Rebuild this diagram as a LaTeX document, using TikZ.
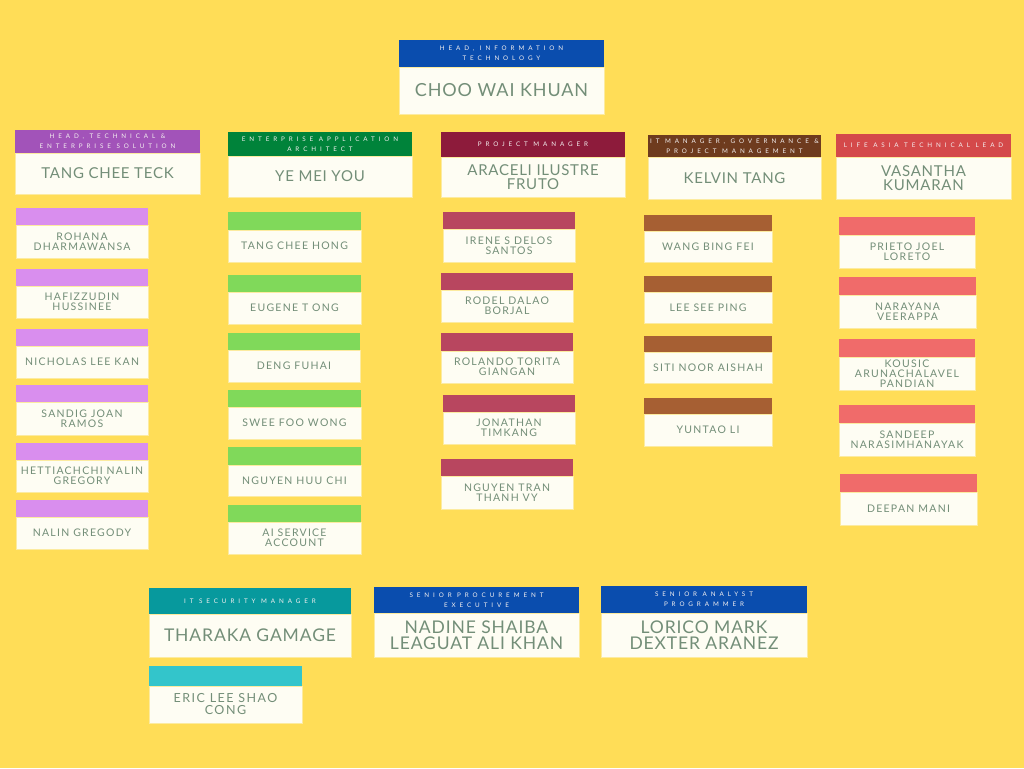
\documentclass[tikz,border=0pt]{standalone}
\usepackage{fontspec}
\setmainfont{Lato}
\newfontfamily\nameF[LetterSpace=5]{Lato}
\newfontfamily\itemF[LetterSpace=12]{Lato}
\newfontfamily\roleF[LetterSpace=62]{Lato}
\newcommand\fBig{\nameF\fontsize{18}{15}\selectfont}
\newcommand\fMid{\nameF\fontsize{15}{13.5}\selectfont}
\newcommand\fBot{\nameF\fontsize{17.5}{16}\selectfont}
\newcommand\fEric{\itemF\fontsize{12.5}{12}\selectfont}
\newcommand\fItem{\itemF\fontsize{10.5}{10.3}\selectfont}
\newcommand\fRole{\roleF\fontsize{6.3}{9.8}\selectfont}
\definecolor{bg}{HTML}{FFDD57}
\definecolor{cream}{HTML}{FEFDF3}
\definecolor{edge}{HTML}{FCEBA0}
\definecolor{nametxt}{HTML}{738E78}
\definecolor{roletxt}{HTML}{F4F0F0}
\definecolor{cblue}{HTML}{0A4DAE}
\definecolor{cpurple}{HTML}{A253B9}
\definecolor{cgreen}{HTML}{00833A}
\definecolor{cmaroon}{HTML}{8D1B3B}
\definecolor{cbrown}{HTML}{6E3B1E}
\definecolor{cred}{HTML}{D4494A}
\definecolor{cteal}{HTML}{07999D}
\definecolor{lpurple}{HTML}{D98EEE}
\definecolor{lgreen}{HTML}{80D95A}
\definecolor{lrose}{HTML}{B8465F}
\definecolor{lbrown}{HTML}{A65F33}
\definecolor{lcoral}{HTML}{F06B6A}
\definecolor{lcyan}{HTML}{33C5CB}
\newcommand\card[9]{%
  \node[hdr, fill=#7, minimum width={(#4-#2)*1pt}, minimum height={(#5-#3)*1pt}] (#1h) at (#2,#3) {#8};
  \node[bod, minimum width={(#4-#2)*1pt}, minimum height={(#6-#5)*1pt}] (#1) at (#2,#5) {#9};
}
\begin{document}
\begin{tikzpicture}[x=1pt,y=-1pt,
  bodyfont/.style={font=\fItem},
  hdr/.style={anchor=north west, inner sep=0pt, outer sep=0pt, text=roletxt, font=\fRole, align=center},
  bod/.style={anchor=north west, inner sep=0pt, outer sep=0pt, fill=cream, draw=edge, line width=0.7pt, text=nametxt, align=center, bodyfont}]
\fill[bg] (0,0) rectangle (1024,768);
\useasboundingbox (0,0) rectangle (1024,768);

% top and column heads
\begin{scope}[bodyfont/.style={font=\fBig}]
\card{choo}{399}{40}{604}{67}{114}{cblue}{HEAD, INFORMATION\\TECHNOLOGY}{CHOO WAI KHUAN}
\end{scope}
\begin{scope}[bodyfont/.style={font=\fMid}]
\card{tct}{15}{130}{200}{153}{194}{cpurple}{HEAD, TECHNICAL \&\\ENTERPRISE SOLUTION}{TANG CHEE TECK}
\card{yme}{228}{132}{412}{156}{197}{cgreen}{ENTERPRISE APPLICATION\\ARCHITECT}{YE MEI YOU}
\card{afr}{441}{132}{625}{157}{197}{cmaroon}{PROJECT MANAGER}{ARACELI ILUSTRE\\FRUTO}
\card{kt}{648}{135}{821}{157}{199}{cbrown}{IT MANAGER, GOVERNANCE \&\\PROJECT MANAGEMENT}{KELVIN TANG}
\card{vk}{836}{134}{1011}{157}{199}{cred}{LIFE ASIA TECHNICAL LEAD}{VASANTHA\\KUMARAN}
\end{scope}

% column 1
\card{c1a}{16}{208}{148}{225}{258}{lpurple}{}{ROHANA\\DHARMAWANSA}
\card{c1b}{16}{269}{148}{286}{318}{lpurple}{}{HAFIZZUDIN\\HUSSINEE}
\card{c1c}{16}{329}{148}{346}{378}{lpurple}{}{NICHOLAS LEE KAN}
\card{c1d}{16}{385}{148}{402}{435}{lpurple}{}{SANDIG JOAN\\RAMOS}
\card{c1e}{16}{443}{148}{460}{492}{lpurple}{}{HETTIACHCHI NALIN\\GREGORY}
\card{c1f}{16}{500}{148}{517}{549}{lpurple}{}{NALIN GREGODY}

% column 2
\card{c2a}{228}{212}{361}{230}{262}{lgreen}{}{TANG CHEE HONG}
\card{c2b}{228}{275}{361}{292}{324}{lgreen}{}{EUGENE T ONG}
\card{c2c}{228}{333}{360}{350}{382}{lgreen}{}{DENG FUHAI}
\card{c2d}{228}{390}{361}{407}{439}{lgreen}{}{SWEE FOO WONG}
\card{c2e}{228}{447}{361}{465}{496}{lgreen}{}{NGUYEN HUU CHI}
\card{c2f}{228}{505}{361}{522}{554}{lgreen}{}{AI SERVICE\\ACCOUNT}

% column 3
\card{c3a}{443}{212}{575}{229}{262}{lrose}{}{IRENE S DELOS\\SANTOS}
\card{c3b}{441}{273}{573}{290}{322}{lrose}{}{RODEL DALAO\\BORJAL}
\card{c3c}{441}{333}{573}{351}{383}{lrose}{}{ROLANDO TORITA\\GIANGAN}
\card{c3d}{443}{395}{575}{412}{444}{lrose}{}{JONATHAN\\TIMKANG}
\card{c3e}{441}{459}{573}{476}{509}{lrose}{}{NGUYEN TRAN\\THANH VY}

% column 4
\card{c4a}{644}{215}{772}{231}{262}{lbrown}{}{WANG BING FEI}
\card{c4b}{644}{276}{772}{292}{323}{lbrown}{}{LEE SEE PING}
\card{c4c}{644}{336}{772}{352}{383}{lbrown}{}{SITI NOOR AISHAH}
\card{c4d}{644}{398}{772}{414}{446}{lbrown}{}{YUNTAO LI}

% column 5
\card{c5a}{839}{217}{975}{235}{268}{lcoral}{}{PRIETO JOEL\\LORETO}
\card{c5b}{839}{277}{976}{295}{328}{lcoral}{}{NARAYANA\\VEERAPPA}
\card{c5c}{839}{339}{975}{357}{390}{lcoral}{}{KOUSIC\\ARUNACHALAVEL\\PANDIAN}
\card{c5d}{839}{405}{975}{423}{456}{lcoral}{}{SANDEEP\\NARASIMHANAYAK}
\card{c5e}{840}{474}{977}{492}{525}{lcoral}{}{DEEPAN MANI}

% bottom row
\begin{scope}[bodyfont/.style={font=\fBot}]
\card{tg}{149}{588}{351}{614}{657}{cteal}{IT SECURITY MANAGER}{THARAKA GAMAGE}
\card{ns}{374}{587}{579}{613}{657}{cblue}{SENIOR PROCUREMENT\\EXECUTIVE}{NADINE SHAIBA\\LEAGUAT ALI KHAN}
\card{lm}{601}{586}{807}{613}{657}{cblue}{SENIOR ANALYST\\PROGRAMMER}{LORICO MARK\\DEXTER ARANEZ}
\end{scope}
\begin{scope}[bodyfont/.style={font=\fEric}]
\card{el}{149}{666}{302}{686}{723}{lcyan}{}{ERIC LEE SHAO\\CONG}
\end{scope}
\end{tikzpicture}
\end{document}
